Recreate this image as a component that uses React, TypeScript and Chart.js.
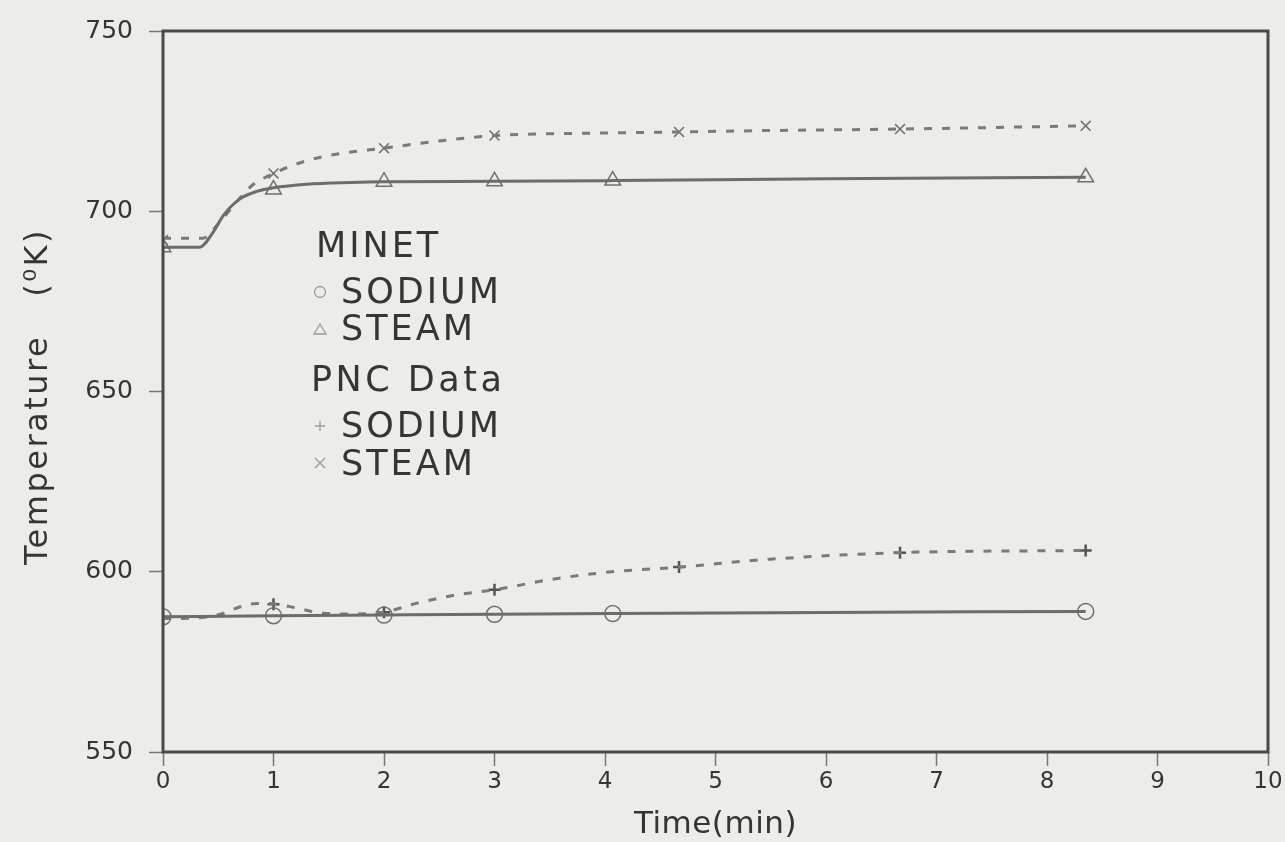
import React, { useEffect, useRef } from 'react';
import { Chart, registerables } from 'chart.js';

Chart.register(...registerables);

// ---- Data ----
const xTickValues = [0, 1, 2, 3, 4, 5, 6, 7, 8, 9, 10];
const yTickValues = [550, 600, 650, 700, 750];

// MINET steam (solid curve)
const minetSteamT = [0, 0.33, 0.45, 0.55, 0.7, 0.85, 1.0, 1.3, 1.7, 2.0, 3.0, 4.07, 6.0, 8.35];
const minetSteamV = [690, 690, 694, 699, 703.5, 705.5, 706.5, 707.5, 708, 708.2, 708.3, 708.5, 709, 709.4];
const minetSteamMarkT = [0, 1, 2, 3, 4.07, 8.35];
const minetSteamMarkV = [690, 706, 708.2, 708.3, 708.5, 709.4];

// PNC steam (dashed curve)
const pncSteamT = [0, 0.36, 0.5, 0.65, 0.8, 1.0, 1.3, 1.6, 2.0, 2.5, 3.0, 4.0, 4.67, 5.5, 6.67, 8.35];
const pncSteamV = [692.5, 692.5, 696.5, 702, 707, 710.5, 714, 716, 717.5, 719.5, 721, 721.7, 722, 722.4, 722.8, 723.7];
const pncSteamMarkT = [0, 1, 2, 3, 4.67, 6.67, 8.35];
const pncSteamMarkV = [692, 710.5, 717.5, 721, 722, 722.8, 723.7];

// MINET sodium (solid curve)
const minetSodiumT = [0, 1, 2, 3, 4.07, 6, 8.35];
const minetSodiumV = [587.5, 587.8, 588, 588.2, 588.4, 588.7, 589];
const minetSodiumMarkT = [0, 1, 2, 3, 4.07, 8.35];
const minetSodiumMarkV = [587.5, 587.8, 588, 588.2, 588.4, 589];

// PNC sodium (dashed curve)
const pncSodiumT = [0, 0.35, 0.55, 0.7, 0.85, 1.0, 1.2, 1.45, 1.7, 2.0, 2.3, 2.6, 3.0, 3.5, 4.0, 4.67, 5.5, 6.67, 8.35];
const pncSodiumV = [587, 587.3, 588.5, 590.3, 591.2, 591.1, 590, 588.5, 588.3, 588.8, 591.3, 593.3, 595, 597.8, 599.8, 601.3, 603.5, 605.3, 605.9];
const pncSodiumMarkT = [0, 1, 2, 3, 4.67, 6.67, 8.35];
const pncSodiumMarkV = [587, 591, 588.8, 595, 601.3, 605.3, 605.9];

const legendLines = ['MINET', 'SODIUM', 'STEAM', 'PNC Data', 'SODIUM', 'STEAM'];
const yTitle = 'Temperature   (⁰K)';
const xTitle = 'Time(min)';

const pts = (xs: number[], ys: number[]) => xs.map((x, i) => ({ x, y: ys[i] }));

const LINE_COLOR = '#6c6c6c';
const TEXT_COLOR = '#353535';
const BG = '#ecece9';

const bgPlugin = {
  id: 'bgFrame',
  beforeDraw(chart: any) {
    const { ctx, width, height } = chart;
    ctx.save();
    ctx.fillStyle = BG;
    ctx.fillRect(0, 0, width, height);
    ctx.restore();
  },
  afterDraw(chart: any) {
    const { ctx, chartArea } = chart;
    ctx.save();
    ctx.strokeStyle = '#4a4a4a';
    ctx.lineWidth = 3;
    ctx.strokeRect(chartArea.left, chartArea.top, chartArea.right - chartArea.left, chartArea.bottom - chartArea.top);

    // y axis title (rotated)
    ctx.save();
    ctx.fillStyle = TEXT_COLOR;
    ctx.font = '32px "DejaVu Sans"';
    (ctx as any).letterSpacing = '2.5px';
    ctx.translate(47, (chartArea.top + chartArea.bottom) / 2 + 5);
    ctx.rotate(-Math.PI / 2);
    ctx.textAlign = 'center';
    ctx.textBaseline = 'alphabetic';
    ctx.fillText(yTitle, 0, 0);
    ctx.restore();

    // x axis title
    ctx.save();
    ctx.fillStyle = TEXT_COLOR;
    ctx.font = '31px "DejaVu Sans"';
    (ctx as any).letterSpacing = '0.5px';
    ctx.textAlign = 'center';
    ctx.textBaseline = 'alphabetic';
    ctx.fillText(xTitle, (chartArea.left + chartArea.right) / 2, 833);
    ctx.restore();

    // legend text
    ctx.fillStyle = TEXT_COLOR;
    ctx.font = '35px "DejaVu Sans"';
    (ctx as any).letterSpacing = '3px';
    ctx.textBaseline = 'alphabetic';
    ctx.textAlign = 'left';
    const L = chartArea.left;
    const T = chartArea.top;
    ctx.fillText(legendLines[0], L + 153, T + 226);
    ctx.fillText(legendLines[1], L + 178, T + 272);
    ctx.fillText(legendLines[2], L + 178, T + 309);
    (ctx as any).letterSpacing = '3.5px';
    ctx.fillText(legendLines[3], L + 148, T + 360);
    (ctx as any).letterSpacing = '3px';
    ctx.fillText(legendLines[4], L + 178, T + 406);
    ctx.fillText(legendLines[5], L + 178, T + 444);

    // legend symbols
    ctx.strokeStyle = '#9a9a9a';
    ctx.lineWidth = 1.3;
    const sx = L + 157;
    ctx.beginPath();
    ctx.arc(sx, T + 261, 5.5, 0, Math.PI * 2);
    ctx.stroke();
    ctx.beginPath();
    ctx.moveTo(sx, T + 293);
    ctx.lineTo(sx + 6, T + 303);
    ctx.lineTo(sx - 6, T + 303);
    ctx.closePath();
    ctx.stroke();
    ctx.beginPath();
    ctx.moveTo(sx - 5, T + 395);
    ctx.lineTo(sx + 5, T + 395);
    ctx.moveTo(sx, T + 390);
    ctx.lineTo(sx, T + 400);
    ctx.stroke();
    ctx.beginPath();
    ctx.moveTo(sx - 5, T + 427);
    ctx.lineTo(sx + 5, T + 437);
    ctx.moveTo(sx + 5, T + 427);
    ctx.lineTo(sx - 5, T + 437);
    ctx.stroke();
    ctx.restore();
  },
};

export default function App() {
  const ref = useRef<HTMLCanvasElement | null>(null);

  useEffect(() => {
    if (!ref.current) return;
    const lineBase = {
      showLine: true,
      pointRadius: 0,
      borderColor: LINE_COLOR,
      borderWidth: 3,
      cubicInterpolationMode: 'monotone' as const,
      fill: false,
    };
    const markBase = {
      showLine: false,
      pointBackgroundColor: 'rgba(0,0,0,0)',
      pointBorderColor: '#707070',
      pointBorderWidth: 1.5,
    };
    const chart = new Chart(ref.current, {
      type: 'scatter',
      data: {
        datasets: [
          { ...lineBase, data: pts(minetSteamT, minetSteamV) },
          { ...lineBase, data: pts(pncSteamT, pncSteamV), borderDash: [8, 10], borderColor: '#7a7a7a' },
          { ...lineBase, data: pts(minetSodiumT, minetSodiumV) },
          { ...lineBase, data: pts(pncSodiumT, pncSodiumV), borderDash: [8, 10], borderColor: '#7a7a7a' },
          { ...markBase, data: pts(minetSteamMarkT, minetSteamMarkV), pointStyle: 'triangle', pointRadius: 9 },
          { ...markBase, data: pts(pncSteamMarkT, pncSteamMarkV), pointStyle: 'crossRot', pointRadius: 7 },
          { ...markBase, data: pts(minetSodiumMarkT, minetSodiumMarkV), pointStyle: 'circle', pointRadius: 8 },
          { ...markBase, data: pts(pncSodiumMarkT, pncSodiumMarkV), pointStyle: 'cross', pointRadius: 6, pointBorderWidth: 2.5, pointBorderColor: '#555' },
        ],
      },
      options: {
        responsive: false,
        animation: false,
        layout: { padding: { top: 22, right: 17, left: 0, bottom: 0 } },
        plugins: { legend: { display: false }, tooltip: { enabled: false } },
        scales: {
          x: {
            type: 'linear',
            min: 0,
            max: 10,
            afterBuildTicks: (s: any) => { s.ticks = xTickValues.map((v) => ({ value: v })); },
            afterFit: (s: any) => { s.height = 90; },
            ticks: { color: TEXT_COLOR, font: { family: 'DejaVu Sans', size: 23 }, padding: 2 },
            grid: { display: true, drawOnChartArea: false, drawTicks: true, tickLength: 14, tickColor: '#777', tickWidth: 1.5 },
            border: { display: false },
            title: { display: false },
          },
          y: {
            type: 'linear',
            min: 550,
            max: 750,
            afterBuildTicks: (s: any) => { s.ticks = yTickValues.map((v) => ({ value: v })); },
            afterFit: (s: any) => { s.width = 163; },
            ticks: { color: TEXT_COLOR, font: { family: 'DejaVu Sans', size: 25 }, padding: 16 },
            grid: { display: true, drawOnChartArea: false, drawTicks: true, tickLength: 14, tickColor: '#777', tickWidth: 1.5 },
            border: { display: false },
            title: { display: false },
          },
        },
      },
      plugins: [bgPlugin],
    });
    return () => chart.destroy();
  }, []);

  return (
    <div style={{ position: 'absolute', left: 0, top: 0, width: 1285, height: 842, background: BG }}>
      <canvas ref={ref} width={1285} height={842} style={{ display: 'block' }} />
    </div>
  );
}
